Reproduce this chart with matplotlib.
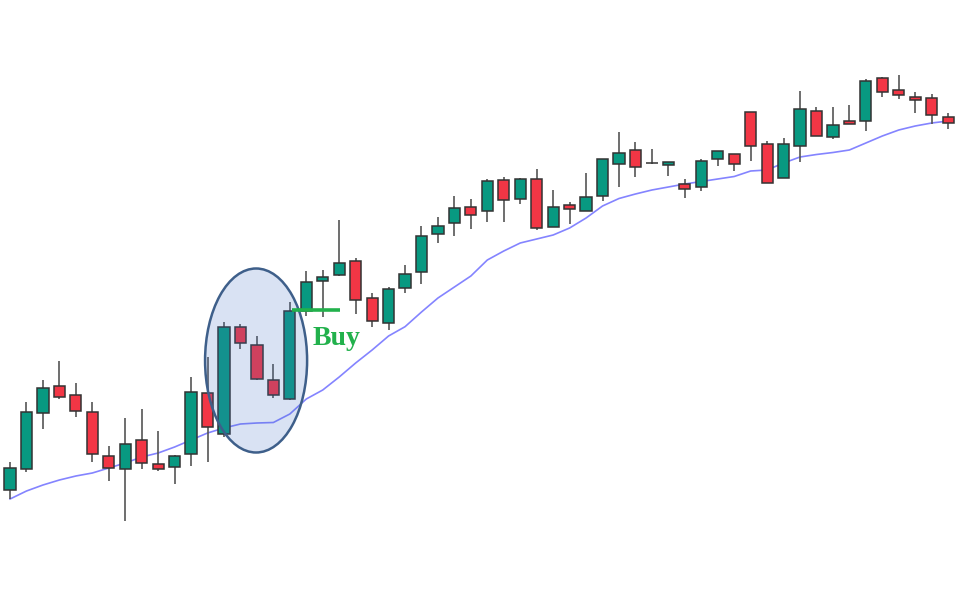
import matplotlib
matplotlib.use("Agg")
import matplotlib.pyplot as plt
from matplotlib.patches import Ellipse, Rectangle
import numpy as np

# candle prices (arbitrary price units)
opens = [111, 131.7, 187.7, 215, 206, 188.7, 145.3, 131.7, 161, 137.3,
         133.7, 147, 208.3, 167, 273.7, 256, 221, 202, 290, 320.3,
         326, 340, 302.7, 277.7, 313, 329.3, 367.3, 378.3, 394.3, 390.3,
         421.3, 402.3, 422.3, 374.3, 396, 390.5, 405.3, 436.7, 451, 437.7,
         435.7, 416.7, 414.3, 442.3, 447.3, 488.7, 456.7, 423.3, 455, 490.3,
         463.7, 480, 479.7, 523.3, 511.3, 504, 503, 484]
highs = [139.3, 199, 221, 240, 218, 199, 155, 183.3, 192, 170,
         146, 224.5, 244, 279.3, 277, 265, 236.7, 299.3, 330, 331,
         381, 342.7, 308.3, 314, 336, 375.3, 383.7, 405.3, 402.3, 421.7,
         424.3, 422.7, 431.7, 410.7, 399, 427.7, 442, 468.7, 458.7, 452,
         439.3, 421.7, 442.3, 450.3, 447.3, 489, 460, 462.7, 510, 493.7,
         493.7, 496.3, 521.7, 524.3, 526, 509.3, 507.3, 487.7]
lows = [102, 129, 172, 202.3, 184.3, 139.3, 120.3, 80.3, 132.3, 130,
        117, 135.5, 139.3, 163.7, 252, 221, 202.7, 201, 285, 283.7,
        324.7, 286.7, 274.3, 271, 308.3, 316.7, 357.7, 365.3, 372, 379.3,
        379.3, 396.7, 371, 373.7, 376.7, 390.3, 400.3, 413.7, 424.3, 437.5,
        425, 402.7, 410, 435, 430, 440.3, 417.7, 423.3, 439.3, 464.7,
        462.3, 477.3, 470, 504.3, 501.7, 487.7, 476.7, 472.3]
closes = [133.3, 189.3, 213.3, 204.3, 190, 147, 132.7, 157.3, 138.3, 131.7,
          145.3, 209.3, 174.3, 273.7, 258.3, 221.7, 206, 290, 319.3, 323.7,
          338, 301, 279.7, 312.3, 326.7, 365, 375, 392.7, 386.3, 420,
          401, 421.7, 372.7, 394, 392, 404, 441.7, 448.3, 433.7, 437.7,
          439.3, 411.7, 440, 450.3, 436.7, 455, 417.7, 456.7, 491.7, 464.7,
          476, 477.3, 520, 509.3, 505.7, 501.3, 485.7, 477.7]

# moving average
ma = [102, 110, 116, 121, 125, 128, 133, 138, 144, 148,
      154, 161, 168, 173, 177, 178, 178.5, 187, 202, 211,
      224, 238, 251, 265, 274.3, 289, 303, 314, 325, 341,
      350, 358, 362, 366, 373, 383, 395, 402.5, 407, 411,
      414, 417, 419.5, 422, 424.5, 430, 431, 438, 444, 446.5,
      448.5, 451, 458, 465, 471, 475, 478, 480]

BREAKOUT = 17  # candle that closes the pattern

UP = "#089981"
DOWN = "#f23645"
DOJI = "#333333"

fig = plt.figure(figsize=(9.6, 6.01), dpi=100)
ax = fig.add_axes([0, 0, 1, 1])
ax.set_xlim(-0.61, 57.72)
ax.set_ylim(0, 601)
ax.axis("off")

x = np.arange(len(opens))
ax.plot(x, ma, color="#8484ff", lw=1.2, zorder=1)

w = 0.68
for i in x:
    o, h, l, c = opens[i], highs[i], lows[i], closes[i]
    if c > o:
        col = UP
    elif c < o:
        col = DOWN
    else:
        col = DOJI
    ax.vlines(i, l, h, color="#555555", lw=1.2, zorder=2)
    bottom = min(o, c)
    height = max(abs(c - o), 0.8)
    ax.add_patch(Rectangle((i - w / 2, bottom), w, height, facecolor=col,
                           edgecolor="#333333", lw=1.1, zorder=3))

# pattern highlight
ax.add_patch(Ellipse((14.95, 240.5), 6.2, 184, facecolor="#4472c4",
                     alpha=0.2, edgecolor="none", zorder=4))
ax.add_patch(Ellipse((14.95, 240.5), 6.2, 184, facecolor="none",
                     edgecolor="#3e5f8a", lw=1.8, zorder=5))

buy = closes[BREAKOUT] + 1
ax.hlines(buy, BREAKOUT + 0.15, BREAKOUT + 3.05, color="#22b14c", lw=2.6,
          zorder=6)
ax.text(18.39, 256, "Buy", color="#22b14c", fontsize=20, fontweight="bold",
        family="Liberation Serif", ha="left", va="baseline", zorder=6)

fig.savefig("out.png", dpi=100, facecolor="white")
